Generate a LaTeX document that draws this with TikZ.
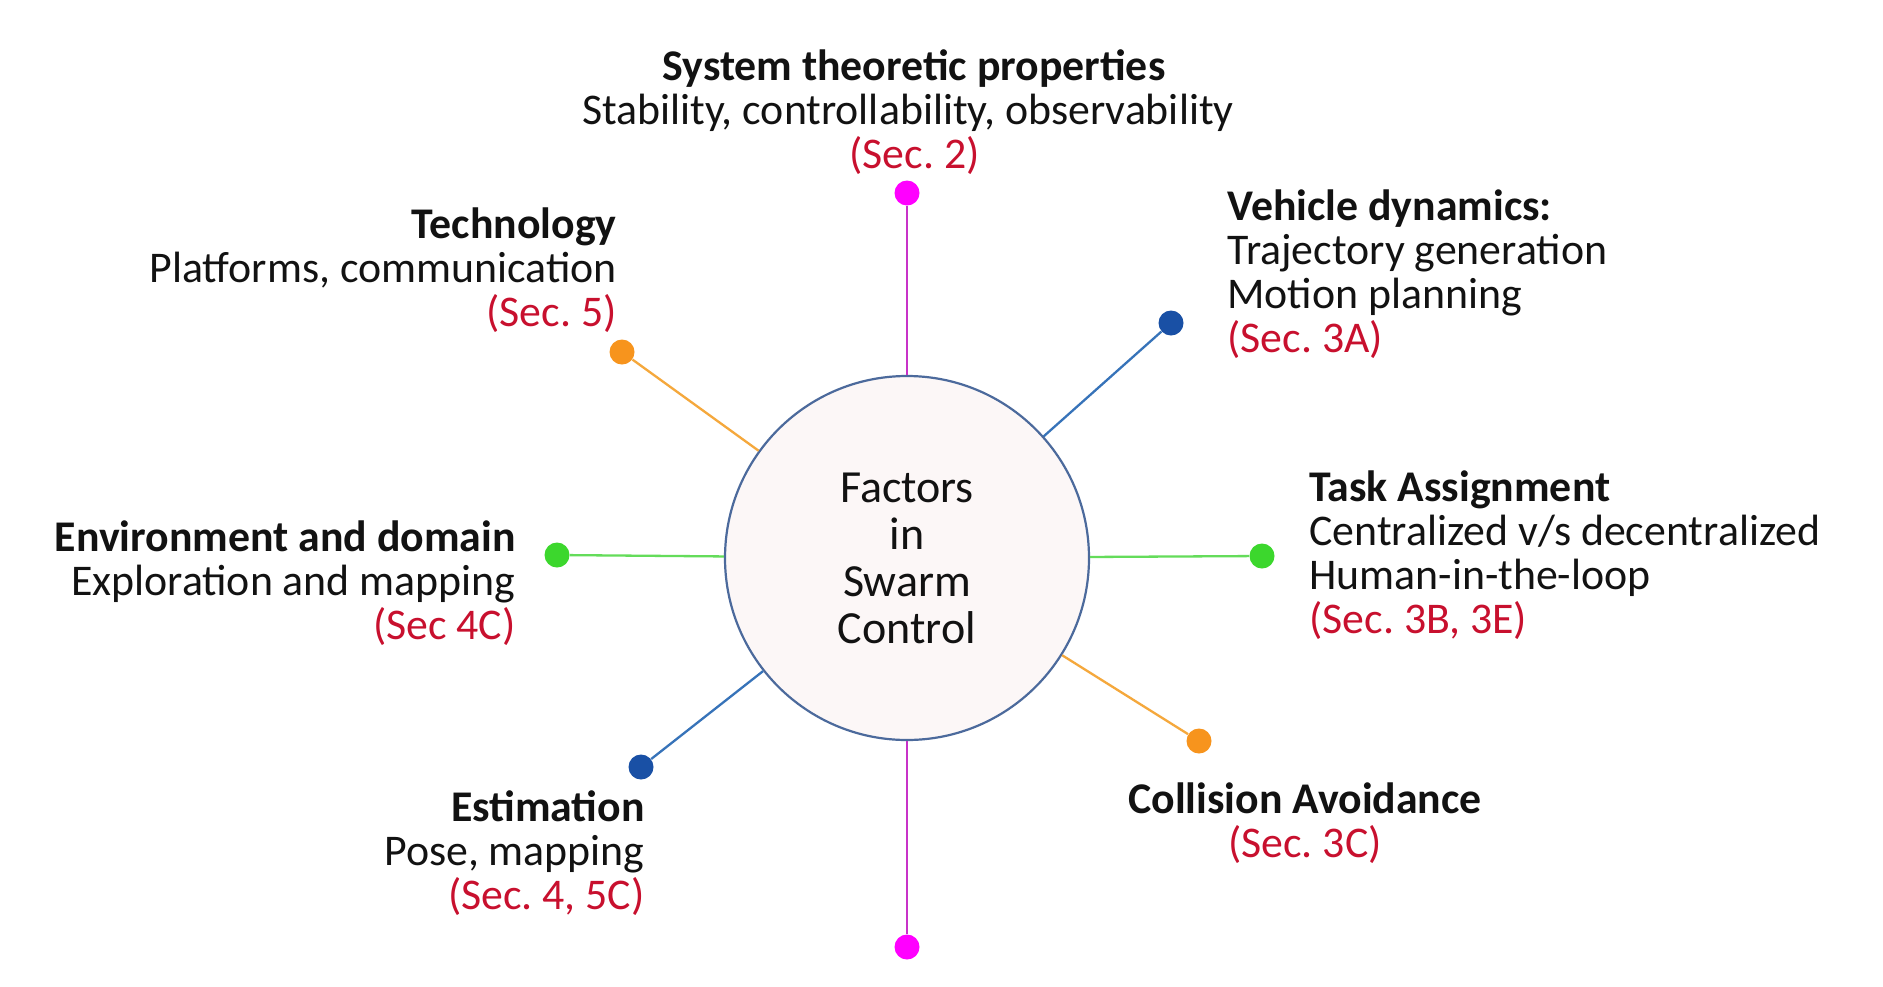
\documentclass[tikz,border=0pt]{standalone}
\usepackage{fontspec}
\setmainfont{Carlito}
\frenchspacing
\definecolor{mag}{RGB}{255,0,255}
\definecolor{magline}{RGB}{200,50,200}
\definecolor{dblue}{RGB}{25,80,165}
\definecolor{blueline}{RGB}{55,115,185}
\definecolor{grn}{RGB}{60,215,45}
\definecolor{grnline}{RGB}{100,220,90}
\definecolor{orng}{RGB}{247,148,29}
\definecolor{orngline}{RGB}{245,168,60}
\definecolor{circblue}{RGB}{76,106,156}
\definecolor{circfill}{RGB}{252,247,247}
\definecolor{secred}{RGB}{200,16,46}
\begin{document}
\begin{tikzpicture}[x=0.5pt,y=-0.5pt,
  lab/.style={font=\fontsize{21.9}{22}\selectfont\frenchspacing, inner sep=0pt, text=black!93},
  dot/.style={circle, fill=#1, minimum size=12.5pt, inner sep=0pt},
  link/.style={draw=#1, line width=1.15pt}]
\useasboundingbox[fill=white] (0,0) rectangle (1883,986);
\node[circle, draw=circblue, fill=circfill, line width=1.1pt, minimum size=182pt, inner sep=0pt,
  font=\fontsize{23}{23.5}\selectfont, align=center, text=black!93] (c) at (907,558) {Factors\\in\\Swarm\\Control};
% dots
\node[dot=mag] (dt) at (907,193) {};
\node[dot=mag] (db) at (907,947) {};
\node[dot=dblue] (dtr) at (1171,323) {};
\node[dot=grn] (dr) at (1262,556) {};
\node[dot=orng] (dbr) at (1199,741) {};
\node[dot=dblue] (dbl) at (641,767) {};
\node[dot=grn] (dl) at (557,555) {};
\node[dot=orng] (dtl) at (622,352) {};
% connectors
\draw[link=magline] (c) -- (dt);
\draw[link=magline] (c) -- (db);
\draw[link=blueline] (c) -- (dtr);
\draw[link=grnline] (c) -- (dr);
\draw[link=orngline] (c) -- (dbr);
\draw[link=blueline] (c) -- (dbl);
\draw[link=grnline] (c) -- (dl);
\draw[link=orngline] (c) -- (dtl);
% labels
\node[lab, align=center] (tsys) at (908,112)
  {\hspace*{6pt}\textbf{System theoretic properties}\\Stability, controllability, observability\\\hspace*{6.6pt}\textcolor{secred}{(Sec. 2)}};
\node[lab, align=right, anchor=east] (ttech) at (617,270)
  {\textbf{Technology}\\Platforms, communication\\\textcolor{secred}{(Sec. 5)}};
\node[lab, align=left, anchor=west] (tveh) at (1227,274)
  {\textbf{Vehicle dynamics:}\\Trajectory generation\\Motion planning\\\textcolor{secred}{(Sec. 3A)}};
\node[lab, align=left, anchor=west] (ttask) at (1309,555)
  {\textbf{Task Assignment}\\Centralized v/s decentralized\\Human-in-the-loop\\\textcolor{secred}{(Sec. 3B, 3E)}};
\node[lab, align=right, anchor=east] (tenv) at (516,583)
  {\textbf{Environment and domain}\\Exploration and mapping\\\textcolor{secred}{(Sec 4C)}};
\node[lab, align=right, anchor=east] (test) at (645,853)
  {\textbf{Estimation}\\Pose, mapping\\\textcolor{secred}{(Sec. 4, 5C)}};
\node[lab, align=center] (tcol) at (1305,823)
  {\textbf{Collision Avoidance}\\\textcolor{secred}{(Sec. 3C)}};
\end{tikzpicture}
\end{document}
